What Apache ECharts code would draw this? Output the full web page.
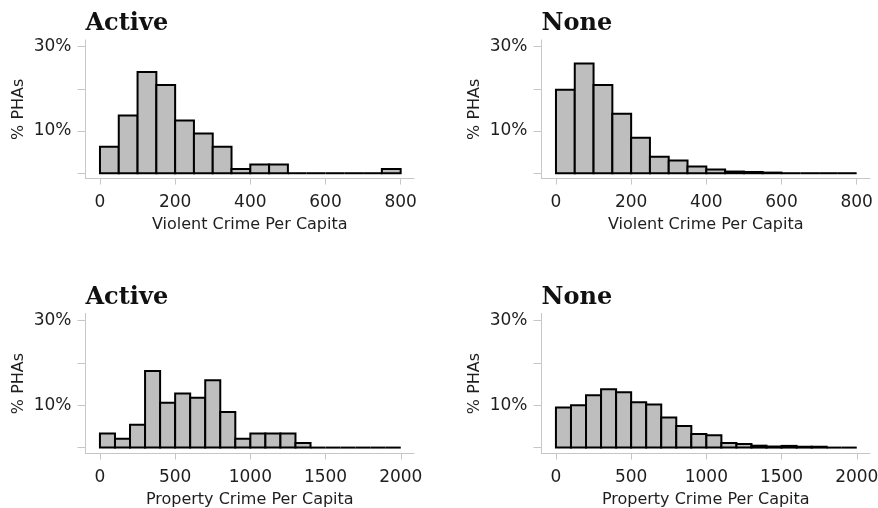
<!DOCTYPE html>
<html>
<head>
<meta charset="utf-8">
<script src="https://cdn.jsdelivr.net/npm/echarts@6/dist/echarts.min.js"></script>
<style>
html,body{margin:0;padding:0;background:#fff;}
#chart{width:878px;height:508px;}
</style>
</head>
<body>
<div id="chart"></div>
<script>
// ---- data ----
const panelTitles = ['Active', 'None', 'Active', 'None'];
const xAxisNames = ['Violent Crime Per Capita', 'Violent Crime Per Capita', 'Property Crime Per Capita', 'Property Crime Per Capita'];
const yAxisName = '% PHAs';

const violentEdges = [0, 50, 100, 150, 200, 250, 300, 350, 400, 450, 500, 550, 600, 650, 700, 750, 800];
const violentActive = [6.3, 13.7, 24.0, 20.9, 12.5, 9.4, 6.3, 1.0, 2.1, 2.1, 0, 0, 0, 0, 0, 1.0];
const violentNone = [19.8, 26.0, 20.9, 14.1, 8.4, 3.9, 3.0, 1.6, 0.9, 0.4, 0.3, 0.15, 0, 0, 0, 0];

const propertyEdges = [0, 100, 200, 300, 400, 500, 600, 700, 800, 900, 1000, 1100, 1200, 1300, 1400, 1500, 1600, 1700, 1800, 1900, 2000];
const propertyActive = [3.3, 2.1, 5.4, 18.1, 10.6, 12.8, 11.8, 15.9, 8.4, 2.1, 3.3, 3.3, 3.3, 1.1, 0, 0, 0, 0, 0, 0];
const propertyNone = [9.5, 10.0, 12.4, 13.8, 13.1, 10.7, 10.2, 7.1, 5.1, 3.2, 2.9, 1.1, 0.85, 0.45, 0.25, 0.4, 0.2, 0.2, 0.05, 0.05];

const violentTicks = [0, 200, 400, 600, 800];
const propertyTicks = [0, 500, 1000, 1500, 2000];
const yTicks = [0, 10, 20, 30];
const yLabels = [10, 30];

// ---- layout ----
const FONT = '"DejaVu Sans", sans-serif';
const AXIS_COLOR = '#c6c6c6';
const TEXT_COLOR = '#1e1e1e';

const panels = [
  {edges: violentEdges, vals: violentActive, ticks: violentTicks, xmin: -38.5, xmax: 835.5, left: 85.5, top: 40, ymin: -1.25, ymax: 31.6, height: 138.5},
  {edges: violentEdges, vals: violentNone, ticks: violentTicks, xmin: -38.5, xmax: 835.5, left: 541.5, top: 40, ymin: -1.25, ymax: 31.6, height: 138.5},
  {edges: propertyEdges, vals: propertyActive, ticks: propertyTicks, xmin: -96, xmax: 2088, left: 85.5, top: 313.5, ymin: -1.4, ymax: 31.7, height: 140},
  {edges: propertyEdges, vals: propertyNone, ticks: propertyTicks, xmin: -96, xmax: 2088, left: 541.5, top: 313.5, ymin: -1.4, ymax: 31.7, height: 140}
];

const grids = [], xAxes = [], yAxes = [], series = [], titles = [];
panels.forEach((p, i) => {
  grids.push({left: p.left, top: p.top, width: 328.5, height: p.height, containLabel: false, outerBoundsMode: 'none'});
  xAxes.push({
    gridIndex: i, type: 'value', min: p.xmin, max: p.xmax,
    name: xAxisNames[i], nameLocation: 'middle', nameGap: 38,
    nameTextStyle: {fontFamily: FONT, fontSize: 16, color: TEXT_COLOR},
    axisLine: {show: true, onZero: false, lineStyle: {color: AXIS_COLOR, width: 1}},
    axisTick: {show: true, length: 6, customValues: p.ticks, lineStyle: {color: AXIS_COLOR, width: 1}},
    axisLabel: {customValues: p.ticks, formatter: v => String(v), fontFamily: FONT, fontSize: 17, color: TEXT_COLOR, margin: 16},
    splitLine: {show: false}
  });
  yAxes.push({
    gridIndex: i, type: 'value', min: p.ymin, max: p.ymax,
    name: yAxisName, nameLocation: 'middle', nameGap: 59, nameRotate: 90,
    nameTextStyle: {fontFamily: FONT, fontSize: 16, color: TEXT_COLOR},
    axisLine: {show: true, onZero: false, lineStyle: {color: AXIS_COLOR, width: 1}},
    axisTick: {show: true, length: 8, customValues: yTicks, lineStyle: {color: AXIS_COLOR, width: 1}},
    axisLabel: {customValues: yLabels, formatter: v => v + '%', fontFamily: FONT, fontSize: 17, color: TEXT_COLOR, margin: 14},
    splitLine: {show: false}
  });
  const data = p.vals.map((v, k) => [p.edges[k], p.edges[k + 1], v]);
  series.push({
    type: 'custom', xAxisIndex: i, yAxisIndex: i, data: data,
    encode: {x: [0, 1], y: 2},
    clip: false,
    renderItem: function (params, api) {
      const a = api.coord([api.value(0), api.value(2)]);
      const b = api.coord([api.value(1), 0]);
      const style = {fill: '#bebebe', stroke: '#000', lineWidth: 2};
      if (Math.abs(b[1] - a[1]) < 0.5) {
        return {type: 'line', shape: {x1: a[0], y1: b[1], x2: b[0], y2: b[1]}, style: {stroke: '#000', lineWidth: 2}};
      }
      return {type: 'rect', shape: {x: a[0], y: a[1], width: b[0] - a[0], height: b[1] - a[1]}, style: style};
    }
  });
  titles.push({
    text: panelTitles[i], left: p.left, top: p.top - 28, padding: 0,
    textStyle: {fontFamily: '"DejaVu Serif", serif', fontSize: 24, fontWeight: 'bold', color: '#111'}
  });
});

const chart = echarts.init(document.getElementById('chart'), null, {renderer: 'canvas'});
chart.setOption({
  animation: false,
  backgroundColor: '#ffffff',
  title: titles,
  grid: grids,
  xAxis: xAxes,
  yAxis: yAxes,
  series: series
});
</script>
</body>
</html>
